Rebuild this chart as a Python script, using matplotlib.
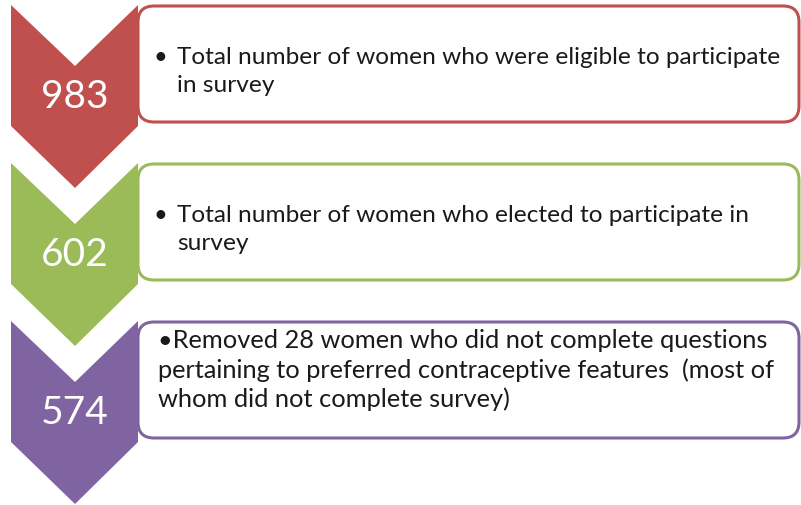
import matplotlib.pyplot as plt
from matplotlib.patches import Polygon, FancyBboxPatch

# data
counts = ['983', '602', '574']
colors = ['#C0504D', '#9BBB59', '#8064A2']
lines = [
    ['Total number of women who were eligible to participate', 'in survey'],
    ['Total number of women who elected to participate in', 'survey'],
    ['\u2022Removed 28 women who did not complete questions',
     'pertaining to preferred contraceptive features  (most of',
     'whom did not complete survey)'],
]

plt.rcParams['font.family'] = ['Lato', 'DejaVu Sans']

fig = plt.figure(figsize=(8.01, 5.06), dpi=100)
ax = fig.add_axes([0, 0, 1, 1])
ax.set_xlim(0, 801)
ax.set_ylim(506, 0)
ax.axis('off')

step = 158
for i in range(3):
    y0 = 6 + step * i
    c = colors[i]

    # rounded box
    box = FancyBboxPatch((138, y0 + 1), 661, 116,
                         boxstyle='round,pad=0,rounding_size=16',
                         fc='white', ec=c, lw=2.2, zorder=1)
    ax.add_patch(box)

    # chevron
    pts = [(11, y0), (75, y0 + 61), (138, y0), (138, y0 + 121),
           (75, y0 + 183), (11, y0 + 121)]
    ax.add_patch(Polygon(pts, closed=True, fc=c, ec='none', zorder=2))

    ax.text(75, y0 + 102, counts[i], color='white', fontsize=28,
            ha='center', va='baseline', zorder=3)

    if i < 2:
        base = y0 + 58
        gap = 28
        x = 177
        fs = 17.6
        ax.text(154, base, '\u2022', fontsize=17, color='#1a1a1a',
                ha='left', va='baseline', zorder=3)
    else:
        base = y0 + 26
        gap = 29.5
        x = 158
        fs = 18.3
    for j, s in enumerate(lines[i]):
        ax.text(x, base + gap * j, s, fontsize=fs, color='#1a1a1a',
                ha='left', va='baseline', zorder=3)

fig.savefig('out.png', dpi=100)
